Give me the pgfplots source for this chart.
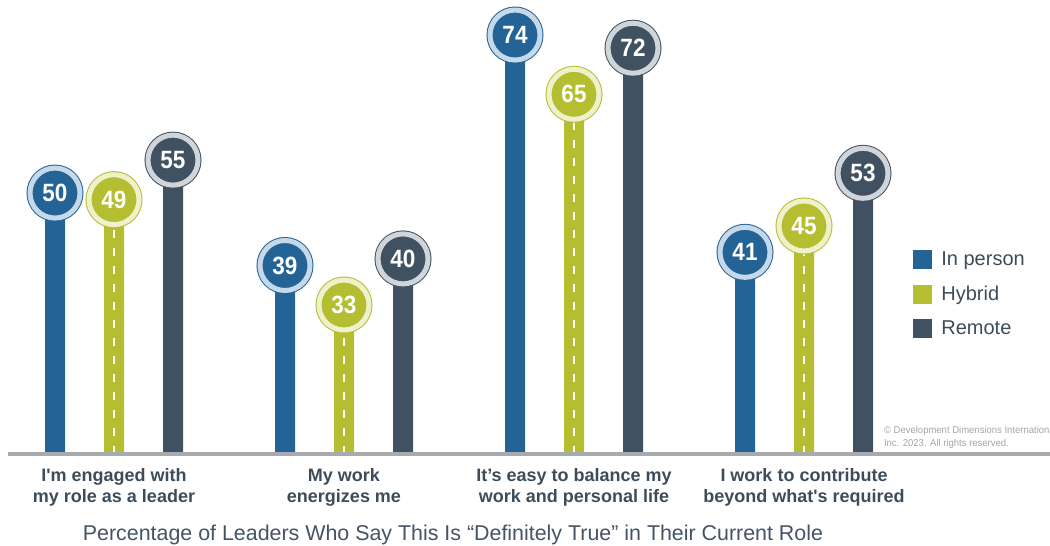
\documentclass[border=0pt]{standalone}
\usepackage{fontspec}
\setmainfont{Liberation Sans}
\newfontfamily\numfont[FakeStretch=0.9]{Liberation Sans}
\newfontfamily\cpfont[FakeStretch=0.95]{Liberation Sans}
\usepackage{pgfplots}
\pgfplotsset{compat=1.18}
\definecolor{inC}{RGB}{35,99,149}
\definecolor{inL}{RGB}{197,217,234}
\definecolor{hyC}{RGB}{181,189,48}
\definecolor{hyL}{RGB}{239,241,204}
\definecolor{reC}{RGB}{64,82,97}
\definecolor{reL}{RGB}{208,213,218}
\definecolor{labC}{RGB}{62,76,89}
\definecolor{titC}{RGB}{68,84,100}
\definecolor{axC}{RGB}{167,170,174}
\definecolor{cpC}{RGB}{165,165,165}
\pgfplotsset{
  sqlegend/.style={legend image code/.code={\fill[##1] (0pt,-4.75pt) rectangle (9.5pt,4.75pt);}},
  bubble/.style 2 args={only marks, mark=none, forget plot, nodes near coords,
    every node near coord/.append style={circle, fill=#1, draw=#1, line width=0.5pt,
      double=#2, double distance=2.5pt, minimum size=25pt, inner sep=0pt, text=white,
      font=\numfont\bfseries\fontsize{12.5}{12.5}\selectfont, anchor=center}},
}
\begin{document}
\begin{tikzpicture}
\begin{axis}[
  scale only axis, width=521pt, height=227pt,
  xmin=8, xmax=1050, ymin=10.37, ymax=79.32,
  axis x line=bottom, axis y line=none,
  x axis line style={draw=axC, line width=2pt, -},
  axis on top,
  xtick={114,344,574,804},
  xticklabels={{I\textquotesingle m engaged with\\my role as a leader},{My work\\energizes me},{It’s easy to balance my\\work and personal life},{I work to contribute\\beyond what\textquotesingle s required}},
  major tick length=0pt,
  xticklabel style={align=center, font=\bfseries\fontsize{9}{10.5}\selectfont, text=labC, inner sep=0pt, anchor=north, yshift=-7pt},
  ytick=\empty,
  /pgf/number format/assume math mode=true,
  legend style={draw=none, fill=none, inner sep=0pt, at={(axis description cs:0.8685,0.4493)}, anchor=north west,
    font=\fontsize{10}{12}\selectfont, text=labC, row sep=7.75pt, column sep=4.5pt, nodes={inner sep=0pt}},
  legend cell align=left,
]
\addplot[ybar, bar width=10pt, bar shift=0pt, fill=inC, draw=none, sqlegend] coordinates {(55,50) (285,39) (515,74) (745,41)};
\addlegendentry{In person}
\addplot[ybar, bar width=10pt, bar shift=0pt, fill=hyC, draw=none, sqlegend] coordinates {(114,49) (344,33) (574,65) (804,45)};
\addlegendentry{Hybrid}
\addplot[ybar, bar width=10pt, bar shift=0pt, fill=reC, draw=none, sqlegend] coordinates {(173,55) (403,40) (633,72) (863,53)};
\addlegendentry{Remote}
\addplot[ycomb, white, line width=1pt, dash pattern=on 4pt off 5pt, forget plot, mark=none] coordinates {(114,49) (344,33) (574,65) (804,45)};
\addplot[bubble={inC}{inL}] coordinates {(55,50) (285,39) (515,74) (745,41)};
\addplot[bubble={hyC}{hyL}] coordinates {(114,49) (344,33) (574,65) (804,45)};
\addplot[bubble={reC}{reL}] coordinates {(173,55) (403,40) (633,72) (863,53)};
\end{axis}
\node[anchor=base, font=\fontsize{10.7}{12}\selectfont, text=titC] at ([shift={(222.5pt,-43.5pt)}]current axis.south west) {Percentage of Leaders Who Say This Is “Definitely True” in Their Current Role};
\node[anchor=base west, align=left, font=\cpfont\fontsize{5}{6.5}\selectfont, text=cpC] at ([shift={(434.5pt,3.5pt)}]current axis.south west) {© Development Dimensions International,\\Inc. 2023. All rights reserved.};
\pgfresetboundingbox
\path ([xshift=-4pt]current axis.north west) rectangle ([yshift=-46pt]current axis.south east);
\end{tikzpicture}
\end{document}
